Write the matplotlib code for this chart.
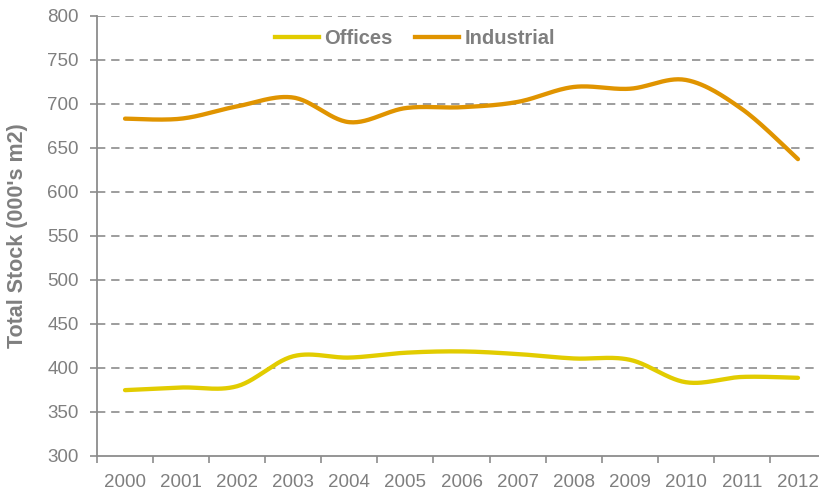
import numpy as np
import matplotlib
matplotlib.use("Agg")
import matplotlib.pyplot as plt
from matplotlib.lines import Line2D

years = ["2000", "2001", "2002", "2003", "2004", "2005", "2006",
         "2007", "2008", "2009", "2010", "2011", "2012"]
offices = [374.5, 377.5, 379, 413, 411.5, 417, 418.5, 415.5, 410.5, 409, 383.5, 389.5, 388.5]
industrial = [683, 683, 697, 707, 679, 695, 696, 702, 719, 717, 727, 694, 637]
y_ticks = [300, 350, 400, 450, 500, 550, 600, 650, 700, 750, 800]

OFF_C = "#E2CC00"
IND_C = "#E09400"
TXT_C = "#7F7F7F"
GRID_C = "#8C8C8C"
FONT = "Liberation Sans"


def smooth(x, y, n=30):
    """Excel-style smoothed line (Catmull-Rom Bezier) through the data points."""
    x = np.asarray(x, float)
    y = np.asarray(y, float)
    px = np.concatenate([[x[0]], x, [x[-1]]])
    py = np.concatenate([[y[0]], y, [y[-1]]])
    xs, ys = [], []
    t = np.linspace(0, 1, n)
    for i in range(1, len(px) - 2):
        p0 = np.array([px[i], py[i]])
        p3 = np.array([px[i + 1], py[i + 1]])
        c1 = p0 + (np.array([px[i + 1], py[i + 1]]) - np.array([px[i - 1], py[i - 1]])) / 6
        c2 = p3 - (np.array([px[i + 2], py[i + 2]]) - np.array([px[i], py[i]])) / 6
        b = ((1 - t) ** 3)[:, None] * p0 + (3 * (1 - t) ** 2 * t)[:, None] * c1 \
            + (3 * (1 - t) * t ** 2)[:, None] * c2 + (t ** 3)[:, None] * p3
        xs.extend(b[:, 0])
        ys.extend(b[:, 1])
    return np.array(xs), np.array(ys)


fig = plt.figure(figsize=(8.19, 4.94), dpi=100)
ax = fig.add_axes([97 / 819, 1 - 455.7 / 494, 729 / 819, 440 / 494])

x = np.arange(len(years))
sx, sy = smooth(x, offices)
ax.plot(sx, sy, color=OFF_C, lw=3.1, solid_capstyle="round", zorder=3)
sx, sy = smooth(x, industrial)
ax.plot(sx, sy, color=IND_C, lw=3.1, solid_capstyle="round", zorder=3)

ax.set_xlim(-0.5, len(years) - 0.5)
ax.set_ylim(300, 800)
ax.set_yticks(y_ticks)
ax.set_yticklabels([str(v) for v in y_ticks], fontsize=13.5, color=TXT_C, family=FONT)
ax.set_xticks(x)
ax.set_xticklabels(years, fontsize=13.5, color=TXT_C, family=FONT)
ax.set_xticks(np.arange(-0.5, len(years)), minor=True)
ax.tick_params(axis="x", which="major", length=0, pad=13.5)
ax.tick_params(axis="x", which="minor", length=5, color=GRID_C, width=1.2)
ax.tick_params(axis="y", length=5, color=GRID_C, width=1.2, pad=8)

for v in y_ticks[1:]:
    ax.axhline(v, color=GRID_C, lw=1.2, ls=(0, (5, 3.5)), zorder=1)

for s in ["top", "right"]:
    ax.spines[s].set_visible(False)
for s in ["left", "bottom"]:
    ax.spines[s].set_color(GRID_C)
    ax.spines[s].set_linewidth(1.3)

ax.set_ylabel("Total Stock (000's m2)", fontsize=15.5, fontweight="bold", color=TXT_C, family=FONT)
ax.yaxis.set_label_coords(-0.094, 0.5)

handles = [Line2D([], [], color=OFF_C, lw=3.1), Line2D([], [], color=IND_C, lw=3.1)]
leg = fig.legend(handles, ["Offices", "Industrial"], loc="center", bbox_to_anchor=(415 / 819, 1 - 39 / 494),
                 ncol=2, frameon=False, handlelength=2.2, handletextpad=0.25, columnspacing=1.1,
                 prop={"family": FONT, "weight": "bold", "size": 14.5})
for t in leg.get_texts():
    t.set_color(TXT_C)

fig.savefig("out.png", dpi=100)
